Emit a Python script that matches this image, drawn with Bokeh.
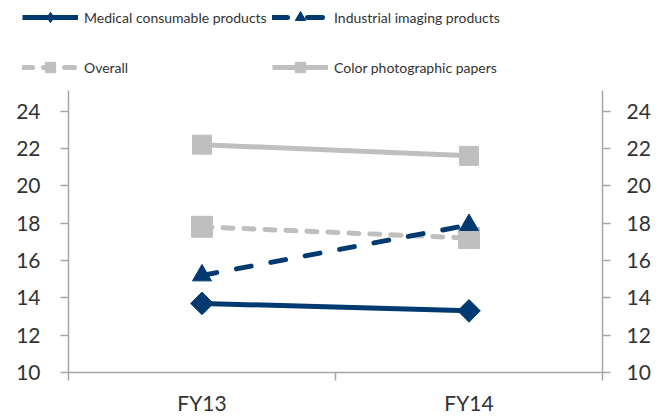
import numpy as np
from bokeh.plotting import figure
from bokeh.layouts import column
from bokeh.models import (FactorRange, Range1d, LinearAxis, CategoricalAxis, FixedTicker,
                          Legend, LegendItem, ColumnDataSource)
from bokeh.embed import file_html
from bokeh.resources import INLINE

categories = ["FY13", "FY14"]
medical = [13.7, 13.3]
industrial = [15.2, 17.9]
overall = [17.8, 17.2]
color_paper = [22.2, 21.6]
y_ticks = [10, 12, 14, 16, 18, 20, 22, 24]
series_names = ["Medical consumable products", "Industrial imaging products",
                "Overall", "Color photographic papers"]

NAVY = "#003A70"
GRAY = "#BFBFBF"
AXIS = "#A6A6A6"
TEXT = "#333333"
FONT = "Lato"

styles = {
    "col": dict(color=GRAY, dash="solid", cap="butt", marker="square", size=19, angle=0.0, lmarker="square"),
    "ov": dict(color=GRAY, dash="10 11", cap="round", marker="square", size=21, angle=0.0, lmarker="square"),
    "ind": dict(color=NAVY, dash="15 20", cap="round", marker="triangle", size=19, angle=0.0, lmarker="triangle"),
    "med": dict(color=NAVY, dash="solid", cap="butt", marker="square", size=16, angle=np.pi / 4, lmarker="diamond"),
}

xr = FactorRange(factors=categories, range_padding=0)
src = ColumnDataSource(dict(x=categories, med=medical, ind=industrial, ov=overall, col=color_paper))

# ---------------- main chart ----------------
p = figure(width=659, height=327, x_range=xr,
           y_range=Range1d(10, 25.1), output_backend="svg", toolbar_location=None,
           x_axis_location=None, y_axis_location=None,
           min_border_left=68, min_border_right=57, min_border_top=0, min_border_bottom=45)
p.frame_align = False
p.outline_line_color = None
p.xgrid.visible = False
p.ygrid.visible = False

xt = LinearAxis(ticker=FixedTicker(ticks=[0, 1, 2]),
                major_label_text_font_size="0px", major_label_standoff=0,
                major_label_overrides={0: "", 1: "", 2: ""},
                major_tick_out=8, major_tick_in=0, minor_tick_out=0, minor_tick_in=0,
                axis_line_color=AXIS, major_tick_line_color=AXIS, axis_line_width=1.5,
                major_tick_line_width=1.5)
p.add_layout(xt, "below")
xc = CategoricalAxis(axis_line_color=None, major_tick_line_color=None,
                     major_tick_out=0, major_label_standoff=9,
                     major_label_text_font=FONT, major_label_text_font_size="21px",
                     major_label_text_color=TEXT)
p.add_layout(xc, "below")

for side, standoff in (("left", 20), ("right", 16)):
    ax = LinearAxis(ticker=FixedTicker(ticks=y_ticks), major_tick_out=8, major_tick_in=0,
                    minor_tick_out=0, minor_tick_in=0, axis_line_color=AXIS,
                    major_tick_line_color=AXIS, axis_line_width=1.5, major_tick_line_width=1.5,
                    major_label_standoff=standoff, major_label_text_font=FONT,
                    major_label_text_font_size="21px", major_label_text_color=TEXT)
    p.add_layout(ax, side)

for key in ["col", "ov", "ind", "med"]:
    s = styles[key]
    p.line("x", key, source=src, line_color=s["color"], line_width=5,
           line_dash=s["dash"], line_cap=s["cap"])
    p.scatter("x", key, source=src, marker=s["marker"], size=s["size"], angle=s["angle"],
              fill_color=s["color"], line_color=s["color"])

# ---------------- legend strip (series drawn out of its y-range, only the legend shows) ----
lf = figure(width=659, height=90, x_range=xr, y_range=Range1d(0, 1),
            output_backend="svg", toolbar_location=None,
            x_axis_location=None, y_axis_location=None,
            min_border_left=0, min_border_right=0, min_border_top=0, min_border_bottom=0)
lf.frame_align = False
lf.outline_line_color = None
lf.xgrid.visible = False
lf.ygrid.visible = False

items = {}
for key, name in zip(["med", "ind", "ov", "col"], series_names):
    s = styles[key]
    rl = lf.line("x", key, source=src, line_color=s["color"], line_width=5,
                 line_dash=s["dash"], line_cap=s["cap"])
    rm = lf.scatter("x", key, source=src, marker=s["lmarker"], size=s["size"],
                    fill_color=s["color"], line_color=s["color"])
    items[key] = LegendItem(label=name, renderers=[rl, rm])

common = dict(orientation="horizontal", glyph_width=56, glyph_height=26, label_standoff=6,
              label_width=186, spacing=2, padding=0, margin=0, border_line_color=None,
              background_fill_alpha=0, label_text_font=FONT, label_text_font_size="14px",
              label_text_color=TEXT)
leg1 = Legend(items=[items["med"], items["ind"]], location=(22, 60), **common)
leg2 = Legend(items=[items["ov"], items["col"]], location=(22, 10), **common)
lf.add_layout(leg1, "center")
lf.add_layout(leg2, "center")

layout = column(lf, p, spacing=0)
open("out.html", "w").write(file_html(layout, INLINE))
